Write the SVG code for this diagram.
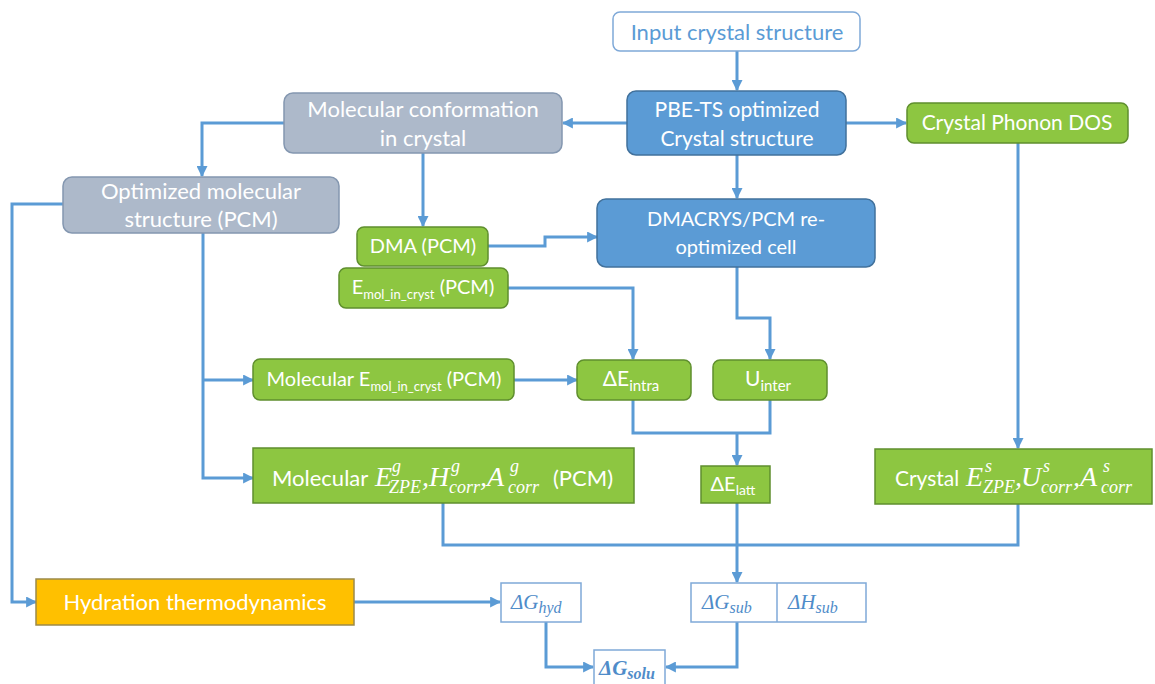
<svg xmlns="http://www.w3.org/2000/svg" width="1155" height="684" viewBox="0 0 1155 684">
<defs>
<style>
.t{font-family:Lato,"Open Sans","Liberation Sans",sans-serif;font-size:20px;fill:#ffffff;text-anchor:middle}
.tl{font-family:Lato,"Open Sans","Liberation Sans",sans-serif;font-size:22px;fill:#ffffff}
.m{font-family:"Liberation Serif","DejaVu Serif",serif;font-style:italic;fill:#ffffff}
.big{font-size:28px}
.sm{font-size:18px}
.mb{font-family:"Liberation Serif","DejaVu Serif",serif;font-style:italic;fill:#4f8cc9}
.blue{fill:#5b9bd5;stroke:#41719c;stroke-width:1.5}
.grey{fill:#adb9ca;stroke:#8497b0;stroke-width:1.5}
.green{fill:#8dc641;stroke:#5f8f2e;stroke-width:1.5}
.orange{fill:#ffc000;stroke:#9c8a4a;stroke-width:1.5}
.out{fill:#ffffff;stroke:#7fa9d8;stroke-width:1.5}
.c{fill:none;stroke:#5b9bd5;stroke-width:3}
</style>
<marker id="a" viewBox="0 0 10 10" refX="9" refY="5" markerWidth="11" markerHeight="11" markerUnits="userSpaceOnUse" orient="auto">
<path d="M0,0 L10,5 L0,10 z" fill="#5b9bd5"/>
</marker>
</defs>
<rect width="1155" height="684" fill="#ffffff"/>

<g id="connectors">
<path class="c" d="M737,51 V90" marker-end="url(#a)"/>
<path class="c" d="M627,123 H563" marker-end="url(#a)"/>
<path class="c" d="M846,123 H906" marker-end="url(#a)"/>
<path class="c" d="M737,155 V198" marker-end="url(#a)"/>
<path class="c" d="M284,123 H202 V176" marker-end="url(#a)"/>
<path class="c" d="M423,153 V226" marker-end="url(#a)"/>
<path class="c" d="M63,204 H12 V602 H36" marker-end="url(#a)"/>
<path class="c" d="M203,233 V478 H253" marker-end="url(#a)"/>
<path class="c" d="M203,380 H253" marker-end="url(#a)"/>
<path class="c" d="M488,246 H545 V237 H597" marker-end="url(#a)"/>
<path class="c" d="M508,288 H633 V359" marker-end="url(#a)"/>
<path class="c" d="M514,380 H577" marker-end="url(#a)"/>
<path class="c" d="M737,267 V318 H770 V359" marker-end="url(#a)"/>
<path class="c" d="M633,400 V433 H770 V400"/>
<path class="c" d="M737,433 V465" marker-end="url(#a)"/>
<path class="c" d="M1018,143 V448" marker-end="url(#a)"/>
<path class="c" d="M443,503 V545 H1018 V504"/>
<path class="c" d="M737,503 V582" marker-end="url(#a)"/>
<path class="c" d="M354,602 H500" marker-end="url(#a)"/>
<path class="c" d="M546,622 V667 H593" marker-end="url(#a)"/>
<path class="c" d="M737,622 V667 H666" marker-end="url(#a)"/>
</g>

<g id="input">
<rect class="out" x="613" y="12" width="247" height="39" rx="7"/>
<text class="t" x="737" y="40" style="fill:#5b9bd5;font-size:22px">Input crystal structure</text>
</g>
<g id="pbe">
<rect class="blue" x="627" y="91" width="219" height="64" rx="9"/>
<text class="t" x="737" y="117" style="font-size:21px">PBE-TS optimized</text>
<text class="t" x="737" y="146" style="font-size:21px">Crystal structure</text>
</g>
<g id="molconf">
<rect class="grey" x="284" y="93" width="278" height="60" rx="9"/>
<text class="t" x="423" y="117" style="font-size:22px">Molecular conformation</text>
<text class="t" x="423" y="146" style="font-size:22px">in crystal</text>
</g>
<g id="phonon">
<rect class="green" x="907" y="103" width="221" height="40" rx="7"/>
<text class="t" x="1017" y="130" style="font-size:21px">Crystal Phonon DOS</text>
</g>
<g id="optmol">
<rect class="grey" x="63" y="177" width="276" height="56" rx="9"/>
<text class="t" x="201" y="199" style="font-size:22px">Optimized molecular</text>
<text class="t" x="201" y="227" style="font-size:22px">structure (PCM)</text>
</g>
<g id="dma">
<rect class="green" x="357" y="227" width="131" height="39" rx="7"/>
<text class="t" x="423" y="253">DMA (PCM)</text>
</g>
<g id="emol">
<rect class="green" x="339" y="268" width="169" height="40" rx="7"/>
<text class="t" x="423" y="294">E<tspan dy="5" style="font-size:13px">mol_in_cryst</tspan><tspan dy="-5"> (PCM)</tspan></text>
</g>
<g id="dmacrys">
<rect class="blue" x="597" y="199" width="278" height="68" rx="9"/>
<text class="t" x="736" y="226">DMACRYS/PCM re-</text>
<text class="t" x="736" y="254">optimized cell</text>
</g>
<g id="molemol">
<rect class="green" x="253" y="359" width="261" height="41" rx="7"/>
<text class="t" x="384" y="386">Molecular E<tspan dy="5" style="font-size:13px">mol_in_cryst</tspan><tspan dy="-5"> (PCM)</tspan></text>
</g>
<g id="dEintra">
<rect class="green" x="577" y="360" width="114" height="40" rx="7"/>
<text class="t" x="631" y="386" style="font-size:21px">ΔE<tspan dy="5" style="font-size:15px">intra</tspan></text>
</g>
<g id="Uinter">
<rect class="green" x="713" y="360" width="114" height="40" rx="7"/>
<text class="t" x="768" y="386" style="font-size:21px">U<tspan dy="5" style="font-size:15px">inter</tspan></text>
</g>
<g id="molg">
<rect class="green" x="253" y="448" width="381" height="55"/>
<text class="tl" x="272" y="486">Molecular</text>
<text class="m big" x="375" y="486">E</text>
<text class="m sm" x="392" y="472">g</text>
<text class="m sm" x="389" y="493">ZPE</text>
<text class="m big" x="422" y="486">,</text>
<text class="m big" x="429" y="486">H</text>
<text class="m sm" x="451" y="472">g</text>
<text class="m sm" x="449" y="493">corr</text>
<text class="m big" x="480" y="486">,</text>
<text class="m big" x="487" y="486">A</text>
<text class="m sm" x="510" y="472">g</text>
<text class="m sm" x="508" y="493">corr</text>
<text class="tl" x="553" y="486">(PCM)</text>
</g>
<g id="dElatt">
<rect class="green" x="701" y="466" width="69" height="37"/>
<text class="t" x="733" y="491">ΔE<tspan dy="4" style="font-size:14px">latt</tspan></text>
</g>
<g id="crystals">
<rect class="green" x="875" y="449" width="277" height="55"/>
<text class="tl" x="895" y="486" style="font-size:21px">Crystal</text>
<text class="m big" x="966" y="486">E</text>
<text class="m sm" x="985" y="472">s</text>
<text class="m sm" x="983" y="493">ZPE</text>
<text class="m big" x="1015" y="486">,</text>
<text class="m big" x="1021" y="486">U</text>
<text class="m sm" x="1043" y="472">s</text>
<text class="m sm" x="1041" y="493">corr</text>
<text class="m big" x="1073" y="486">,</text>
<text class="m big" x="1080" y="486">A</text>
<text class="m sm" x="1103" y="472">s</text>
<text class="m sm" x="1101" y="493">corr</text>
</g>
<g id="hydration">
<rect class="orange" x="36" y="579" width="318" height="46"/>
<text class="t" x="195" y="610" style="font-size:22px">Hydration thermodynamics</text>
</g>
<g id="dGhyd">
<rect class="out" x="501" y="583" width="80" height="39"/>
<text class="mb" x="511" y="609" style="font-size:21px">ΔG<tspan dy="4" style="font-size:16px">hyd</tspan></text>
</g>
<g id="dGsub">
<rect class="out" x="691" y="583" width="175" height="39"/>
<line x1="777" y1="583" x2="777" y2="622" stroke="#7fa9d8" stroke-width="1.5"/>
<text class="mb" x="702" y="609" style="font-size:21px">ΔG<tspan dy="4" style="font-size:16px">sub</tspan></text>
<text class="mb" x="788" y="609" style="font-size:21px">ΔH<tspan dy="4" style="font-size:16px">sub</tspan></text>
</g>
<g id="dGsolu">
<rect class="out" x="594" y="650" width="71" height="40"/>
<text class="mb" x="599" y="675" style="font-size:21px;font-weight:bold">ΔG<tspan dy="4" style="font-size:16px">solu</tspan></text>
</g>
</svg>
